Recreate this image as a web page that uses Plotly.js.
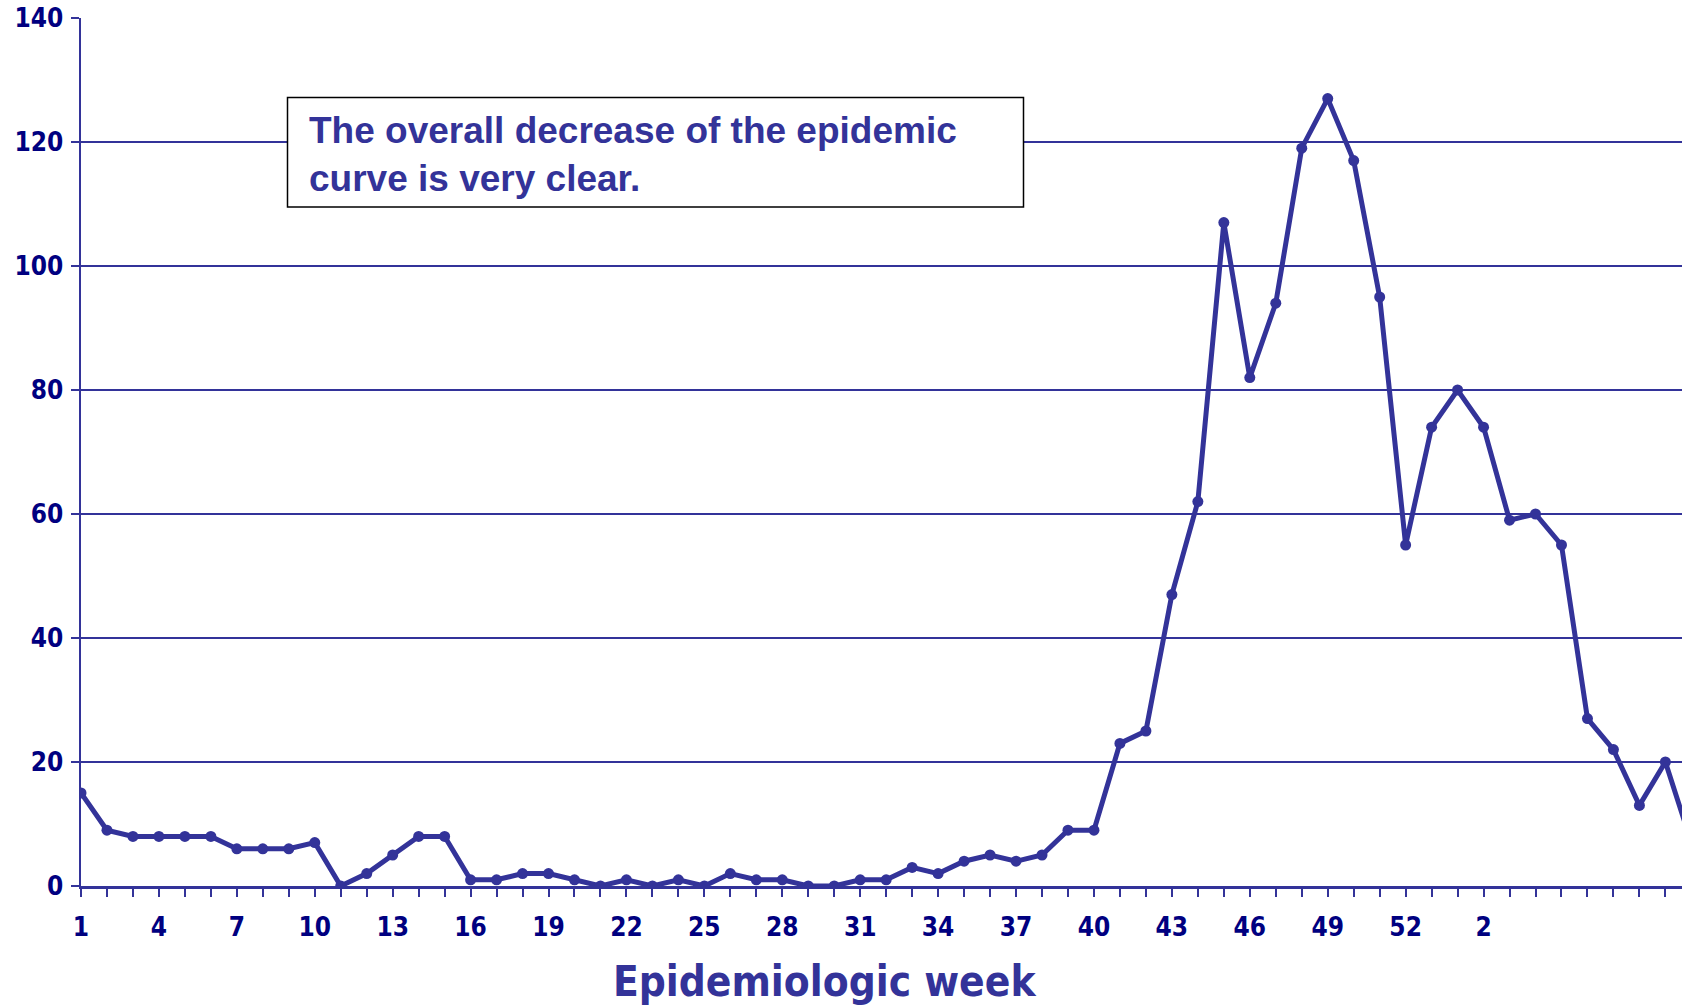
<!DOCTYPE html>
<html>
<head>
<meta charset="utf-8">
<script src="https://cdn.plot.ly/plotly-3.0.1.min.js"></script>
<style>
html,body{margin:0;padding:0;background:#fff;}
#chart{width:1682px;height:1007px;}
</style>
</head>
<body>
<div id="chart"></div>
<script>
// Epidemiologic weeks (week 53 of the first year, then the new year restarts at 1)
const weeks = [1,2,3,4,5,6,7,8,9,10,11,12,13,14,15,16,17,18,19,20,
  21,22,23,24,25,26,27,28,29,30,31,32,33,34,35,36,37,38,39,40,
  41,42,43,44,45,46,47,48,49,50,51,52,53,1,2,3,4,5,6,7,8,9,10];
// Cases per week
const cases = [15,9,8,8,8,8,6,6,6,7,0,2,5,8,8,1,1,2,2,1,
  0,1,0,1,0,2,1,1,0,0,1,1,3,2,4,5,4,5,9,9,
  23,25,47,62,107,82,94,119,127,117,95,55,74,80,74,59,60,55,27,22,13,20,7];
// Tick labels shown on the x axis (every third week up to week 2 of the new year)
const shownTickLabels = ["1","4","7","10","13","16","19","22","25","28","31","34","37","40","43","46","49","52","2"];
const yTicks = [0,20,40,60,80,100,120,140];
const noteText = "The overall decrease of the epidemic<br>curve is very clear.";
const xTitle = "Epidemiologic week";

const idx = cases.map((_, i) => i);
let k = 0;
const tickText = idx.map(i => (i % 3 === 0 && k < shownTickLabels.length) ? shownTickLabels[k++] : "");

const blue = "#333399";
const navy = "#000080";
const tickFont = {family: "'DejaVu Sans Condensed', 'DejaVu Sans', sans-serif", size: 26, color: navy, weight: 700};

const trace = {
  x: idx, y: cases, type: "scatter", mode: "lines+markers",
  line: {color: blue, width: 5},
  marker: {color: blue, size: 11},
  cliponaxis: true,
  hoverinfo: "skip"
};

const L = 81, T = 18, W = 1601, H = 868;
const px = v => (v - L) / W;
const py = v => (T + H - v) / H;

const layout = {
  width: 1682, height: 1007,
  margin: {l: L, r: 0, t: T, b: 1007 - T - H},
  paper_bgcolor: "#fff", plot_bgcolor: "#fff",
  showlegend: false,
  xaxis: {
    range: [0, 61.64], tickmode: "array", tickvals: idx, ticktext: tickText,
    ticks: "outside", ticklen: 8, tickwidth: 2, tickcolor: blue,
    showline: true, linecolor: blue, linewidth: 2.5,
    showgrid: false, zeroline: false, tickfont: tickFont,
    ticklabelstandoff: 8, tickangle: 0, fixedrange: true
  },
  yaxis: {
    range: [0, 140], tickmode: "array", tickvals: yTicks,
    ticks: "outside", ticklen: 8, tickwidth: 2, tickcolor: blue,
    showline: true, linecolor: blue, linewidth: 2.5,
    showgrid: true, gridcolor: blue, gridwidth: 1.5, zeroline: false,
    tickfont: tickFont, ticklabelstandoff: 2, fixedrange: true
  },
  shapes: [{
    type: "rect", xref: "paper", yref: "paper", layer: "above",
    x0: px(287.5), x1: px(1023.5), y0: py(207), y1: py(97.5),
    fillcolor: "#fff", line: {color: "#000", width: 1.5}
  }],
  annotations: [
    {
      xref: "paper", yref: "paper", x: px(307), y: py(154),
      xanchor: "left", yanchor: "middle", align: "left", showarrow: false,
      text: noteText,
      font: {family: "'Liberation Sans', Arial, sans-serif", size: 37, color: blue, weight: 700}
    },
    {
      xref: "paper", yref: "paper", x: px(824), y: py(981),
      xanchor: "center", yanchor: "middle", showarrow: false,
      text: xTitle,
      font: {family: "'DejaVu Sans Condensed', 'DejaVu Sans', sans-serif", size: 42, color: blue, weight: 700}
    }
  ]
};

Plotly.newPlot("chart", [trace], layout, {displayModeBar: false, staticPlot: true});
</script>
</body>
</html>
